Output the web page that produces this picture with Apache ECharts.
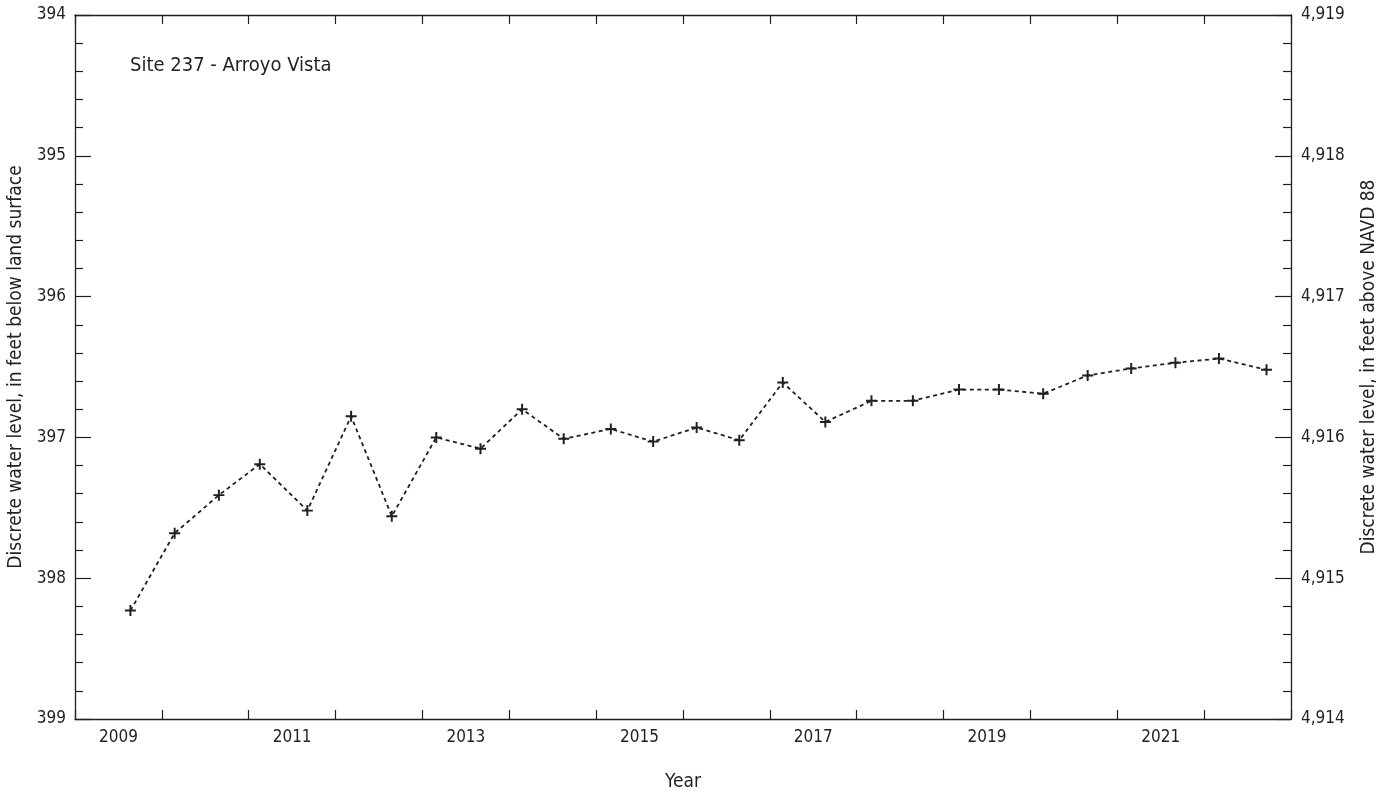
<!DOCTYPE html>
<html>
<head>
<meta charset="utf-8">
<script src="https://cdn.jsdelivr.net/npm/echarts@6/dist/echarts.min.js"></script>
<style>
html,body{margin:0;padding:0;background:#fff;}
#chart{width:1385px;height:792px;}
</style>
</head>
<body>
<div id="chart"></div>
<script>
// ---- data ----
const sampleDates = ['2009-08-22','2010-02-24','2010-08-29','2011-02-17','2011-09-05','2012-03-07','2012-08-25','2013-02-28','2013-09-02','2014-02-24','2014-08-18','2015-03-04','2015-08-29','2016-02-28','2016-08-25','2017-02-24','2017-08-22','2018-03-04','2018-08-25','2019-03-07','2019-08-22','2020-02-24','2020-08-29','2021-02-28','2021-09-02','2022-03-04','2022-09-20'];
const depthBelowSurface = [398.23,397.68,397.41,397.19,397.52,396.85,397.56,397.00,397.08,396.80,397.01,396.94,397.03,396.93,397.02,396.61,396.89,396.74,396.74,396.66,396.66,396.69,396.56,396.51,396.47,396.44,396.52];
const yearCategories = ['2009','2010','2011','2012','2013','2014','2015','2016','2017','2018','2019','2020','2021','2022'];
const labelledYears = ['2009','2011','2013','2015','2017','2019','2021'];
const siteTitle = 'Site 237 - Arroyo Vista';

const FONT = '"DejaVu Sans Condensed", "Liberation Sans Narrow", "Roboto Condensed", "Liberation Sans", sans-serif';
const INK = '#231f20';
const TICK_FS = 17;
const NAME_FS = 19;
const chart = echarts.init(document.getElementById('chart'));
const seriesData = sampleDates.map((d, i) => [d, depthBelowSurface[i]]);
const plus = 'path://M4.1,0h1.8v4.1h4.1v1.8h-4.1v4.1h-1.8v-4.1h-4.1v-1.8h4.1z';

chart.setOption({
  animation: false,
  backgroundColor: '#fff',
  textStyle: {fontFamily: FONT, color: INK},
  title: {
    text: siteTitle, left: 125, top: 51,
    textStyle: {fontFamily: FONT, fontSize: 20, fontWeight: 'normal', color: INK}
  },
  grid: {left: 75, right: 94, top: 15, bottom: 73, containLabel: false, outerBoundsMode: 'none'},
  xAxis: [
    {
      type: 'category', position: 'bottom', data: yearCategories, boundaryGap: true,
      name: 'Year', nameLocation: 'middle', nameGap: 54,
      nameTextStyle: {fontFamily: FONT, fontSize: NAME_FS, color: INK},
      axisLine: {show: true, lineStyle: {color: INK, width: 1.3}},
      axisTick: {show: true, inside: true, length: 9, interval: 0, lineStyle: {color: INK, width: 1.2}},
      axisLabel: {interval: 0, margin: 10, fontFamily: FONT, fontSize: TICK_FS, color: INK,
        formatter: v => labelledYears.indexOf(v) >= 0 ? v : ''},
      splitLine: {show: false}
    },
    {
      type: 'category', position: 'top', data: yearCategories, boundaryGap: true,
      axisLine: {show: true, lineStyle: {color: INK, width: 1.3}},
      axisTick: {show: true, inside: true, length: 9, interval: 0, lineStyle: {color: INK, width: 1.2}},
      axisLabel: {show: false},
      splitLine: {show: false}
    },
    {
      type: 'time', show: false, min: '2009-01-01', max: '2023-01-01'
    }
  ],
  yAxis: [
    {
      type: 'value', position: 'left', inverse: true, min: 394, max: 399, interval: 1,
      name: 'Discrete water level, in feet below land surface',
      nameLocation: 'middle', nameGap: 44, nameRotate: 90,
      nameTextStyle: {fontFamily: FONT, fontSize: NAME_FS, color: INK},
      axisLine: {show: true, lineStyle: {color: INK, width: 1.3}},
      axisTick: {show: true, inside: true, length: 16, lineStyle: {color: INK, width: 1.2}},
      minorTick: {show: true, splitNumber: 5, length: 8, lineStyle: {color: INK, width: 1.2}},
      axisLabel: {margin: 9, fontFamily: FONT, fontSize: TICK_FS, color: INK},
      splitLine: {show: false}, minorSplitLine: {show: false}
    },
    {
      type: 'value', position: 'right', min: 4914, max: 4919, interval: 1,
      name: 'Discrete water level, in feet above NAVD 88',
      nameLocation: 'middle', nameGap: 69, nameRotate: 90,
      nameTextStyle: {fontFamily: FONT, fontSize: NAME_FS, color: INK},
      axisLine: {show: true, lineStyle: {color: INK, width: 1.3}},
      axisTick: {show: true, inside: true, length: 16, lineStyle: {color: INK, width: 1.2}},
      minorTick: {show: true, splitNumber: 5, length: 8, lineStyle: {color: INK, width: 1.2}},
      axisLabel: {margin: 10, fontFamily: FONT, fontSize: TICK_FS, color: INK,
        formatter: v => v.toLocaleString('en-US')},
      splitLine: {show: false}, minorSplitLine: {show: false}
    }
  ],
  series: [{
    type: 'line', xAxisIndex: 2, yAxisIndex: 0, data: seriesData,
    symbol: plus, symbolSize: 11,
    itemStyle: {color: INK},
    lineStyle: {color: INK, width: 1.8, type: [4, 3.5]},
    silent: true
  }]
});
</script>
</body>
</html>
